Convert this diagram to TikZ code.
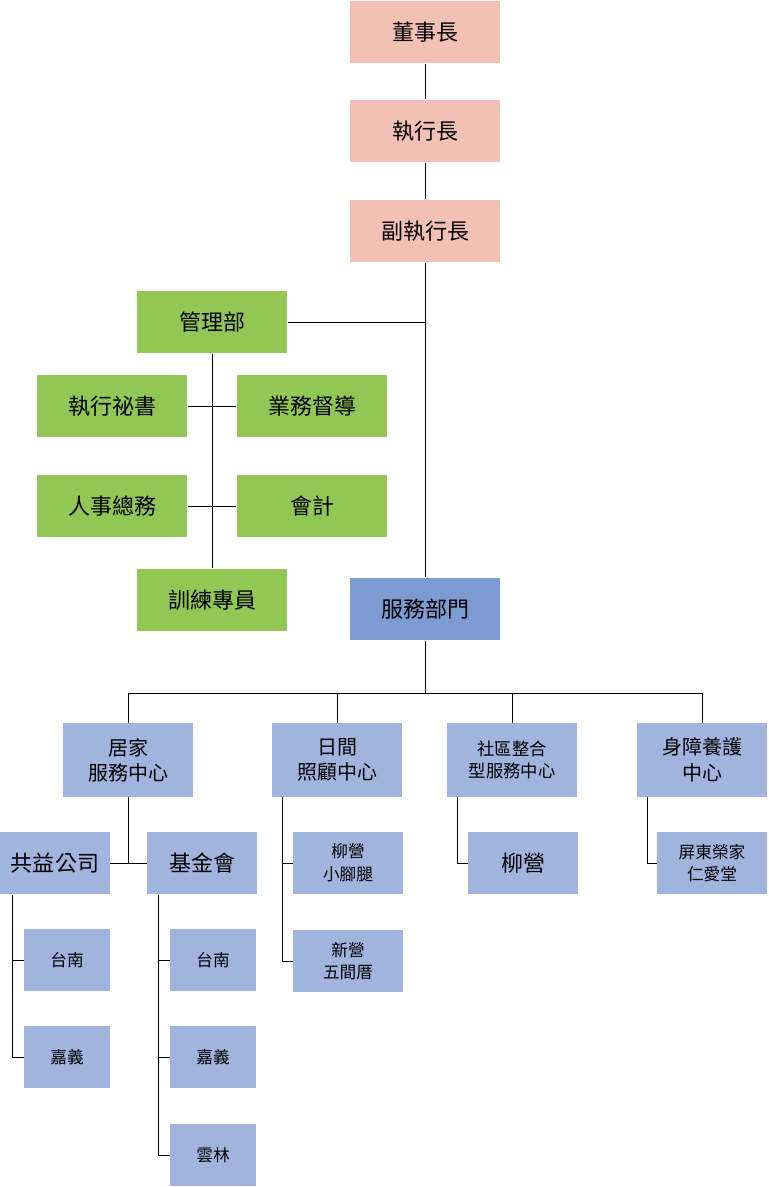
\documentclass[tikz,border=0pt]{standalone}
\usepackage{fontspec}
\setmainfont{Noto Sans CJK TC}
\definecolor{topc}{HTML}{F2C0B5}
\definecolor{mgmt}{HTML}{92C655}
\definecolor{svc}{HTML}{7B9BD2}
\definecolor{unit}{HTML}{A0B4DE}

\begin{document}
\begin{tikzpicture}[x=0.75pt,y=-0.75pt,
  box/.style={fill=#1,minimum width=113pt,minimum height=47pt,inner sep=0pt,font=\fontsize{16.5}{19}\selectfont},
  ubox/.style={fill=unit,minimum width=98pt,minimum height=55pt,inner sep=0pt,align=center,font=\fontsize{15}{19}\selectfont},
  sbox/.style={fill=unit,minimum width=82pt,minimum height=47pt,inner sep=0pt,align=center,font=\fontsize{12.5}{17}\selectfont},
  tbox/.style={fill=unit,minimum width=64pt,minimum height=46pt,inner sep=0pt,font=\fontsize{12.5}{15}\selectfont},
  line/.style={draw,thin}]
\useasboundingbox (0,0) rectangle (768,1187);
% top
\node[box=topc] (chair) at (425,32) {董事長};
\node[box=topc] (ceo) at (425,131) {執行長};
\node[box=topc] (vceo) at (425,231) {副執行長};
% management
\node[box=mgmt] (mgmt) at (212,322) {管理部};
\node[box=mgmt] (sec) at (112,406) {執行祕書};
\node[box=mgmt] (sup) at (312,406) {業務督導};
\node[box=mgmt] (hr) at (112,506) {人事總務};
\node[box=mgmt] (acc) at (312,506) {會計};
\node[box=mgmt] (train) at (212,600) {訓練專員};
% service
\node[box=svc] (svc) at (425,609) {服務部門};
\node[ubox] (home) at (128,760) {居家\\服務中心};
\node[ubox] (day) at (337,760) {日間\\照顧中心};
\node[ubox,font=\fontsize{13}{17}\selectfont] (comm) at (512,760) {社區整合\\型服務中心};
\node[ubox] (dis) at (702,760) {身障養護\\中心};
\node[sbox,font=\fontsize{16.5}{19}\selectfont] (corp) at (55,863) {共益公司};
\node[sbox,font=\fontsize{16.5}{19}\selectfont] (fund) at (202,863) {基金會};
\node[tbox] (ctn) at (67,960) {台南};
\node[tbox] (ccy) at (67,1057) {嘉義};
\node[tbox] (ftn) at (213,960) {台南};
\node[tbox] (fcy) at (213,1057) {嘉義};
\node[tbox] (fyl) at (213,1155) {雲林};
\node[sbox] (dlyy) at (348,863) {柳營\\小腳腿};
\node[sbox] (dxy) at (348,961) {新營\\五間厝};
\node[sbox,font=\fontsize{16.5}{19}\selectfont] (cly) at (523,863) {柳營};
\node[sbox] (dpt) at (712,863) {屏東榮家\\仁愛堂};
% connectors
\draw[line] (chair) -- (ceo);
\draw[line] (ceo) -- (vceo);
\draw[line] (vceo) -- (svc);
\draw[line] (mgmt) -- (mgmt.east -| svc);
\draw[line] (mgmt) -- (train);
\draw[line] (sec) -- (sup);
\draw[line] (hr) -- (acc);
\draw[line] (svc.south) -- ++(0,53) -| (home.north);
\draw[line] (svc.south) ++(0,53) -| (day.north);
\draw[line] (svc.south) ++(0,53) -| (comm.north);
\draw[line] (svc.south) ++(0,53) -| (dis.north);
\draw[line] (corp) -- (fund);
\draw[line] (home.south) -- (home.south |- corp);
\foreach \up/\xx/\kids in {corp/12/{ctn,ccy},fund/158/{ftn,fcy,fyl},day/282/{dlyy,dxy},comm/457/{cly},dis/647/{dpt}}{
  \coordinate (top) at (\xx,0);
  \foreach \k in \kids {\draw[line] (top |- \up.south) |- (\k.west);}
}
\end{tikzpicture}
\end{document}
